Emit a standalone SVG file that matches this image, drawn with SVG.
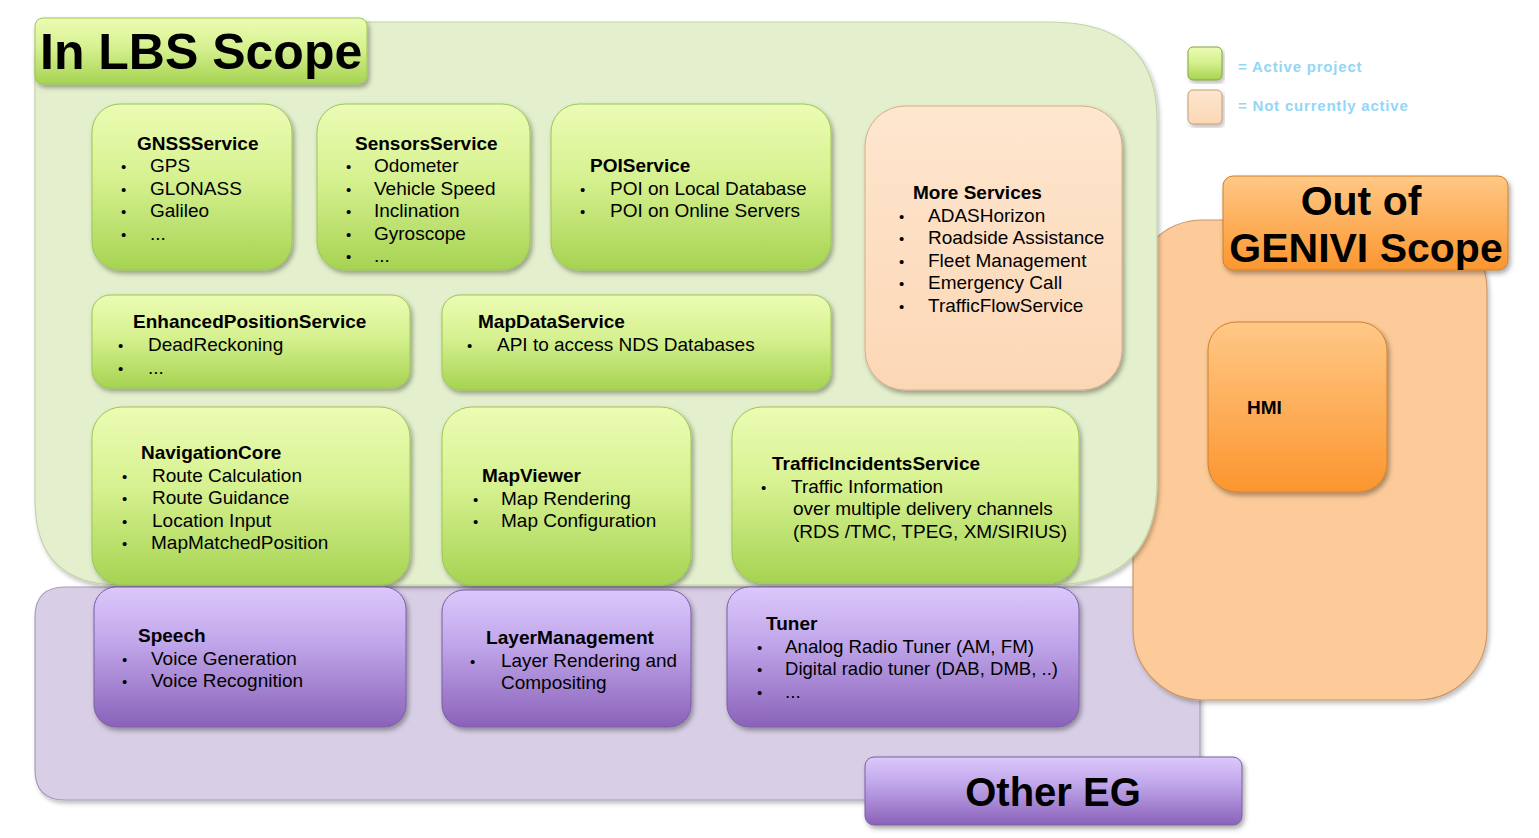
<svg xmlns="http://www.w3.org/2000/svg" width="1539" height="838" viewBox="0 0 1539 838">
<defs>
<linearGradient id="gGreen" x1="0" y1="0" x2="0" y2="1"><stop offset="0" stop-color="#ecfcb4"/><stop offset="0.45" stop-color="#d6f190"/><stop offset="1" stop-color="#a6d352"/></linearGradient>
<linearGradient id="gPurple" x1="0" y1="0" x2="0" y2="1"><stop offset="0" stop-color="#dcc8fb"/><stop offset="0.4" stop-color="#c0a6ea"/><stop offset="1" stop-color="#8a62b9"/></linearGradient>
<linearGradient id="gOrange" x1="0" y1="0" x2="0" y2="1"><stop offset="0" stop-color="#ffc886"/><stop offset="1" stop-color="#fb962f"/></linearGradient>
<linearGradient id="gPeach" x1="0" y1="0" x2="0" y2="1"><stop offset="0" stop-color="#fee6cf"/><stop offset="1" stop-color="#fcd7b5"/></linearGradient>
<filter id="sh" x="-10%" y="-10%" width="125%" height="130%"><feDropShadow dx="2" dy="3" stdDeviation="2.5" flood-color="#000" flood-opacity="0.35"/></filter>
<filter id="shs" x="-5%" y="-5%" width="112%" height="115%"><feDropShadow dx="2" dy="3" stdDeviation="2" flood-color="#000" flood-opacity="0.25"/></filter>
</defs>
<style>
text{font-family:"Liberation Sans",Arial,sans-serif;fill:#000}
.t{font-size:19px;font-weight:bold}
.i{font-size:19px}
.b{font-size:15px}
.big{font-weight:bold}
.leg{font-size:15px;font-weight:bold;fill:#93d6f7;letter-spacing:0.8px}
.gb{fill:url(#gGreen);stroke:#9cc552;stroke-width:1;filter:url(#sh)}
.pb{fill:url(#gPurple);stroke:#7a5ca6;stroke-width:1;filter:url(#sh)}
.ob{fill:url(#gOrange);stroke:#d07e2a;stroke-width:1;filter:url(#sh)}
</style>
<rect width="1539" height="838" fill="#ffffff"/>

<g id="other-eg-region">
<path d="M65 587 H1200 V800 H65 Q35 800 35 770 V617 Q35 587 65 587 Z" fill="#d8cfe6" stroke="#a99cbb" stroke-width="1.2" filter="url(#shs)"/>
</g>
<g id="out-of-genivi-region">
<rect x="1133" y="220" width="354" height="480" rx="70" fill="#fdcb99" stroke="#c9986a" stroke-width="1.2" filter="url(#shs)"/>
</g>
<g id="lbs-region">
<path d="M60 22 H1050 Q1157 22 1157 120 V480 Q1157 585 1050 585 H120 Q35 585 35 500 V60 Q35 22 60 22 Z" fill="#e4f0cd" stroke="#c3d4a8" stroke-width="1.2" filter="url(#shs)"/>
</g>

<g id="legend">
<rect x="1188" y="47" width="34" height="33" rx="5" fill="url(#gGreen)" stroke="#7fa53a" filter="url(#shs)"/>
<text class="leg" x="1238" y="72">= Active project</text>
<rect x="1188" y="90" width="34" height="34" rx="5" fill="url(#gPeach)" stroke="#c39a74" filter="url(#shs)"/>
<text class="leg" x="1238" y="111">= Not currently active</text>
</g>

<g id="title-lbs">
<rect x="35" y="18" width="332" height="66" rx="8" class="gb"/>
<text class="big" x="40" y="69" font-size="50">In LBS Scope</text>
</g>

<g id="gnss">
<rect x="92" y="104" width="200" height="166" rx="28" class="gb"/>
<text class="t" x="137" y="150">GNSSService</text>
<text class="b" x="121" y="172">•</text><text class="i" x="150" y="172">GPS</text>
<text class="b" x="121" y="195">•</text><text class="i" x="150" y="195">GLONASS</text>
<text class="b" x="121" y="217">•</text><text class="i" x="150" y="217">Galileo</text>
<text class="b" x="121" y="240">•</text><text class="i" x="150" y="240">...</text>
</g>

<g id="sensors">
<rect x="317" y="104" width="213" height="166" rx="28" class="gb"/>
<text class="t" x="355" y="150">SensorsService</text>
<text class="b" x="346" y="172">•</text><text class="i" x="374" y="172">Odometer</text>
<text class="b" x="346" y="195">•</text><text class="i" x="374" y="195">Vehicle Speed</text>
<text class="b" x="346" y="217">•</text><text class="i" x="374" y="217">Inclination</text>
<text class="b" x="346" y="240">•</text><text class="i" x="374" y="240">Gyroscope</text>
<text class="b" x="346" y="262">•</text><text class="i" x="374" y="262">...</text>
</g>

<g id="poi">
<rect x="551" y="104" width="280" height="166" rx="28" class="gb"/>
<text class="t" x="590" y="172">POIService</text>
<text class="b" x="580" y="195">•</text><text class="i" x="610" y="195">POI on Local Database</text>
<text class="b" x="580" y="217">•</text><text class="i" x="610" y="217">POI on Online Servers</text>
</g>

<g id="more-services">
<rect x="865" y="106" width="257" height="284" rx="40" fill="url(#gPeach)" stroke="#d6ad86" stroke-width="1" filter="url(#sh)"/>
<text class="t" x="913" y="199">More Services</text>
<text class="b" x="899" y="222">•</text><text class="i" x="928" y="222">ADASHorizon</text>
<text class="b" x="899" y="244">•</text><text class="i" x="928" y="244">Roadside Assistance</text>
<text class="b" x="899" y="267">•</text><text class="i" x="928" y="267">Fleet Management</text>
<text class="b" x="899" y="289">•</text><text class="i" x="928" y="289">Emergency Call</text>
<text class="b" x="899" y="312">•</text><text class="i" x="928" y="312">TrafficFlowService</text>
</g>

<g id="enhanced-position">
<rect x="92" y="295" width="318" height="93" rx="18" class="gb"/>
<text class="t" x="133" y="328">EnhancedPositionService</text>
<text class="b" x="118" y="351">•</text><text class="i" x="148" y="351">DeadReckoning</text>
<text class="b" x="118" y="374">•</text><text class="i" x="148" y="374">...</text>
</g>

<g id="mapdata">
<rect x="442" y="295" width="389" height="95" rx="18" class="gb"/>
<text class="t" x="478" y="328">MapDataService</text>
<text class="b" x="467" y="351">•</text><text class="i" x="497" y="351">API to access NDS Databases</text>
</g>

<g id="navcore">
<rect x="92" y="407" width="318" height="178" rx="30" class="gb"/>
<text class="t" x="141" y="459">NavigationCore</text>
<text class="b" x="122" y="482">•</text><text class="i" x="152" y="482">Route Calculation</text>
<text class="b" x="122" y="504">•</text><text class="i" x="152" y="504">Route Guidance</text>
<text class="b" x="122" y="527">•</text><text class="i" x="152" y="527">Location Input</text>
<text class="b" x="122" y="549">•</text><text class="i" x="151" y="549">MapMatchedPosition</text>
</g>

<g id="mapviewer">
<rect x="442" y="407" width="249" height="178" rx="30" class="gb"/>
<text class="t" x="482" y="482">MapViewer</text>
<text class="b" x="473" y="505">•</text><text class="i" x="501" y="505">Map Rendering</text>
<text class="b" x="473" y="527">•</text><text class="i" x="501" y="527">Map Configuration</text>
</g>

<g id="traffic-incidents">
<rect x="732" y="407" width="347" height="176" rx="30" class="gb"/>
<text class="t" x="772" y="470">TrafficIncidentsService</text>
<text class="b" x="761" y="493">•</text><text class="i" x="791" y="493">Traffic Information</text>
<text class="i" x="793" y="515">over multiple delivery channels</text>
<text class="i" x="793" y="538">(RDS /TMC, TPEG, XM/SIRIUS)</text>
</g>

<g id="speech">
<rect x="94" y="587" width="312" height="140" rx="22" class="pb"/>
<text class="t" x="138" y="642">Speech</text>
<text class="b" x="122" y="665">•</text><text class="i" x="151" y="665">Voice Generation</text>
<text class="b" x="122" y="687">•</text><text class="i" x="151" y="687">Voice Recognition</text>
</g>

<g id="layer-management">
<rect x="442" y="590" width="249" height="137" rx="22" class="pb"/>
<text class="t" x="486" y="644" textLength="168" lengthAdjust="spacingAndGlyphs">LayerManagement</text>
<text class="b" x="470" y="667">•</text><text class="i" x="501" y="667" textLength="176" lengthAdjust="spacingAndGlyphs">Layer Rendering and</text>
<text class="i" x="501" y="689">Compositing</text>
</g>

<g id="tuner">
<rect x="727" y="587" width="352" height="140" rx="22" class="pb"/>
<text class="t" x="766" y="630">Tuner</text>
<text class="b" x="757" y="653">•</text><text class="i" x="785" y="653" textLength="249" lengthAdjust="spacingAndGlyphs">Analog Radio Tuner (AM, FM)</text>
<text class="b" x="757" y="675">•</text><text class="i" x="785" y="675" textLength="273" lengthAdjust="spacingAndGlyphs">Digital radio tuner (DAB, DMB, ..)</text>
<text class="b" x="757" y="698">•</text><text class="i" x="785" y="698">...</text>
</g>

<g id="title-other-eg">
<rect x="865" y="757" width="377" height="68" rx="9" class="pb"/>
<text class="big" x="1053" y="806" font-size="40" text-anchor="middle">Other EG</text>
</g>

<g id="title-out-of-genivi">
<rect x="1223" y="176" width="285" height="94" rx="10" class="ob"/>
<text class="big" x="1361" y="215" font-size="41" text-anchor="middle">Out of</text>
<text class="big" x="1366" y="262" font-size="41" text-anchor="middle">GENIVI Scope</text>
</g>

<g id="hmi">
<rect x="1208" y="322" width="179" height="170" rx="28" class="ob"/>
<text class="t" x="1247" y="414" font-size="17">HMI</text>
</g>

<g id="connectors"></g>
</svg>
